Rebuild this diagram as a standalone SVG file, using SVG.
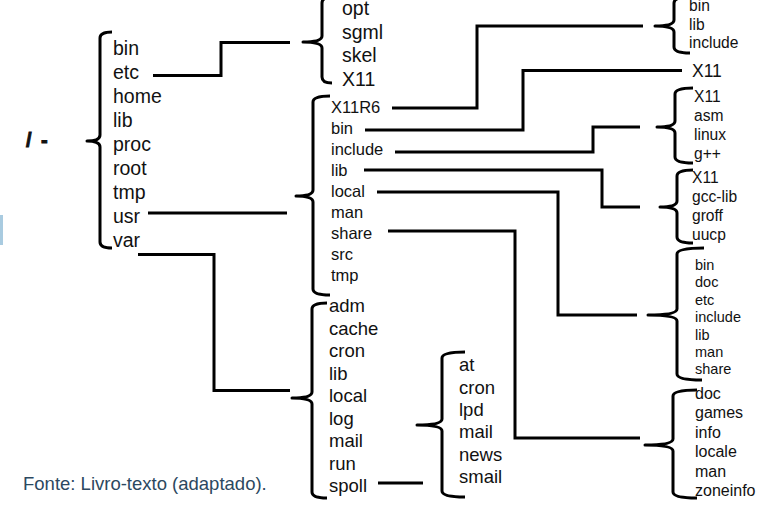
<svg xmlns="http://www.w3.org/2000/svg" width="771" height="505" viewBox="0 0 771 505">
<style>
text{font-family:"Liberation Sans",Arial,sans-serif;fill:#111}
.l{fill:none;stroke:#000;stroke-width:3}
.b{fill:none;stroke:#000;stroke-width:3;stroke-linejoin:round;stroke-linecap:butt}
.f19{font-size:19.5px}
.f16{font-size:16.5px}
.f18{font-size:18.5px}
.f15{font-size:15.6px}
.f14{font-size:14.5px}
</style>
<rect x="0" y="215" width="3" height="30" fill="#a9cbe0"/>
<g id="root">
<text y="147" style="font-size:20px;font-weight:bold;stroke:#111;stroke-width:0.9"><tspan x="26">/</tspan><tspan x="41">-</tspan></text>
<path class="b" d="M112,32 Q100,32 100,38 V135 Q100,141 87,141 Q100,141 100,147 V242 Q100,248 112,248"/>
<text class="f19" x="113"><tspan x="113" y="55">bin</tspan><tspan x="113" y="79">etc</tspan><tspan x="113" y="103">home</tspan><tspan x="113" y="127">lib</tspan><tspan x="113" y="151">proc</tspan><tspan x="113" y="175">root</tspan><tspan x="113" y="199">tmp</tspan><tspan x="113" y="223">usr</tspan><tspan x="113" y="247">var</tspan></text>
</g>
<g id="etc">
<path class="b" d="M332,-3 Q322,-3 322,3 V36 Q322,42 303,42 Q322,42 322,48 V77 Q322,83 332,83"/>
<text class="f19"><tspan x="342" y="15">opt</tspan><tspan x="342" y="38.5">sgml</tspan><tspan x="342" y="62">skel</tspan><tspan x="342" y="86">X11</tspan></text>
</g>
<g id="usr">
<path class="b" d="M330,96 Q313,96 313,102 V190 Q313,196 296,196 Q313,196 313,202 V289 Q313,295 330,295"/>
<text class="f16"><tspan x="331" y="113">X11R6</tspan><tspan x="331" y="134">bin</tspan><tspan x="331" y="155">include</tspan><tspan x="331" y="176">lib</tspan><tspan x="331" y="197">local</tspan><tspan x="331" y="218">man</tspan><tspan x="331" y="239">share</tspan><tspan x="331" y="260">src</tspan><tspan x="331" y="281">tmp</tspan></text>
</g>
<g id="var">
<path class="b" d="M327,303 Q312,303 312,309 V392 Q312,398 292,398 Q312,398 312,404 V492 Q312,498 327,498"/>
<text class="f18"><tspan x="329" y="312">adm</tspan><tspan x="329" y="334.5">cache</tspan><tspan x="329" y="357">cron</tspan><tspan x="329" y="379.5">lib</tspan><tspan x="329" y="402">local</tspan><tspan x="329" y="424.5">log</tspan><tspan x="329" y="447">mail</tspan><tspan x="329" y="469.5">run</tspan><tspan x="329" y="492">spoll</tspan></text>
</g>
<g id="spool">
<path class="b" d="M465,352 Q442,352 442,358 V419 Q442,425 417,425 Q442,425 442,431 V491 Q442,497 465,497"/>
<text class="f18"><tspan x="459" y="371">at</tspan><tspan x="459" y="393.5">cron</tspan><tspan x="459" y="416">lpd</tspan><tspan x="459" y="438">mail</tspan><tspan x="459" y="460.5">news</tspan><tspan x="459" y="483">smail</tspan></text>
</g>
<g id="x11r6">
<path class="b" d="M690,-3 Q674,-3 674,3 V20 Q674,26 655,26 Q674,26 674,32 V47 Q674,53 690,53"/>
<text class="f15"><tspan x="689" y="11">bin</tspan><tspan x="689" y="29.5">lib</tspan><tspan x="689" y="48">include</tspan></text>
</g>
<g id="bin-x11">
<text x="692" y="77" style="font-size:17.5px">X11</text>
</g>
<g id="include">
<path class="b" d="M693,88 Q675,88 675,94 V121 Q675,127 657,127 Q675,127 675,133 V157 Q675,163 693,163"/>
<text class="f15"><tspan x="694" y="102">X11</tspan><tspan x="694" y="121">asm</tspan><tspan x="694" y="140">linux</tspan><tspan x="694" y="159">g++</tspan></text>
</g>
<g id="lib">
<path class="b" d="M693,170 Q677,170 677,176 V201 Q677,207 660,207 Q677,207 677,213 V237 Q677,243 693,243"/>
<text class="f15"><tspan x="692" y="183">X11</tspan><tspan x="692" y="202">gcc-lib</tspan><tspan x="692" y="221">groff</tspan><tspan x="692" y="240">uucp</tspan></text>
</g>
<g id="local">
<path class="b" d="M704,248 Q677,248 677,254 V309 Q677,315 648,315 Q677,315 677,321 V374 Q677,380 702,380"/>
<text class="f14"><tspan x="695" y="270">bin</tspan><tspan x="695" y="287.4">doc</tspan><tspan x="695" y="304.8">etc</tspan><tspan x="695" y="322.2">include</tspan><tspan x="695" y="339.6">lib</tspan><tspan x="695" y="357">man</tspan><tspan x="695" y="374.4">share</tspan></text>
</g>
<g id="share">
<path class="b" d="M697,390 Q673,390 673,396 V439 Q673,445 645,445 Q673,445 673,451 V492 Q673,498 697,498"/>
<text style="font-size:16px"><tspan x="695" y="399">doc</tspan><tspan x="695" y="418.4">games</tspan><tspan x="695" y="437.8">info</tspan><tspan x="695" y="457.2">locale</tspan><tspan x="695" y="476.6">man</tspan><tspan x="695" y="496">zoneinfo</tspan></text>
</g>
<g id="connectors">
<path class="l" d="M153,75.5 H221 V42.5 H290"/>
<path class="l" d="M148,213 H287"/>
<path class="l" d="M138,254.5 H214 V390.5 H290"/>
<path class="l" d="M378,483 H423"/>
<path class="l" d="M392,108 H477 V26 H643"/>
<path class="l" d="M365,130 H523 V70.5 H682"/>
<path class="l" d="M395,152 H593 V127 H640"/>
<path class="l" d="M364,170 H602 V207 H640"/>
<path class="l" d="M377,192 H558 V315 H637"/>
<path class="l" d="M388,231 H515 V438 H640"/>
</g>
<text x="23" y="490" style="font-size:18.5px;fill:#2c4860">Fonte: Livro-texto (adaptado).</text>
</svg>
